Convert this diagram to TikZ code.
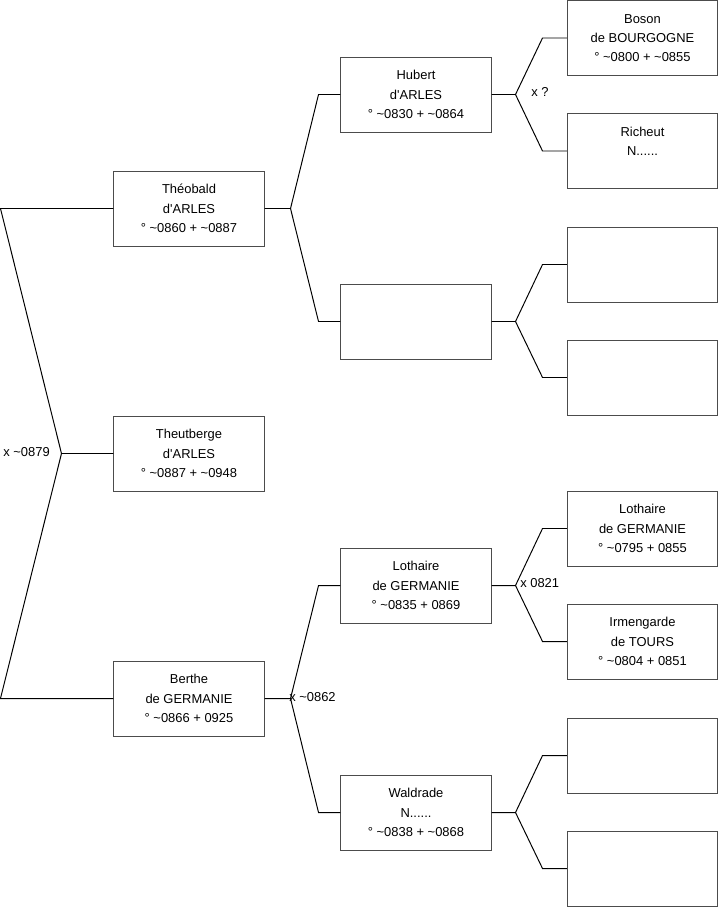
\documentclass[tikz,border=0pt]{standalone}
\usepackage{fontspec}
\setmainfont{Liberation Sans}
\usetikzlibrary{positioning}

\begin{document}
\begin{tikzpicture}[x=0.025cm, y=-0.025cm,
    person/.style={rectangle, draw=black!70, fill=white, line width=0.7pt, minimum width=3.75cm, minimum height=1.875cm, align=center, inner sep=0pt, font=\fontsize{9.2}{13.7}\selectfont},
    link/.style={draw=black, line width=0.7pt},
    union/.style={inner sep=0pt, font=\fontsize{9.2}{10}\selectfont}]

    \useasboundingbox (0,0) rectangle (719,908);

    % generation 1
    \node[person] at (189,208.5) (theobald) {Théobald\\d\textquotesingle ARLES\\° \textasciitilde0860 + \textasciitilde0887};
    \node[person] at (189,453.5) (theutberge) {Theutberge\\d\textquotesingle ARLES\\° \textasciitilde0887 + \textasciitilde0948};
    \node[person] at (189,698.5) (berthe) {Berthe\\de GERMANIE\\° \textasciitilde0866 + 0925};

    % generation 2
    \node[person] at (416,94.5) (hubert) {Hubert\\d\textquotesingle ARLES\\° \textasciitilde0830 + \textasciitilde0864};
    \node[person] at (416,321.5) (theobaldmother) {};
    \node[person] at (416,585.5) (lothaire) {Lothaire\\de GERMANIE\\° \textasciitilde0835 + 0869};
    \node[person] at (416,812.5) (waldrade) {Waldrade\\N......\\° \textasciitilde0838 + \textasciitilde0868};

    % generation 3
    \node[person] at (642.5,38) (boson) {Boson\\de BOURGOGNE\\° \textasciitilde0800 + \textasciitilde0855};
    \node[person] at (642.5,151) (richeut) {Richeut\\N......\\ };
    \node[person] at (642.5,264.5) (blanka) {};
    \node[person] at (642.5,377.5) (blankb) {};
    \node[person] at (642.5,528.5) (lothairegm) {Lothaire\\de GERMANIE\\° \textasciitilde0795 + 0855};
    \node[person] at (642.5,641.5) (irmengarde) {Irmengarde\\de TOURS\\° \textasciitilde0804 + 0851};
    \node[person] at (642.5,755.5) (blankc) {};
    \node[person] at (642.5,868.5) (blankd) {};

    % forks
    \draw[link] (theutberge.west) -- ++(-52,0) coordinate (jtheutberge) -- ++(-61,-245) -- (theobald.west);
    \draw[link] (jtheutberge) -- ++(-61,245) -- (berthe.west);

    \draw[link] (theobald.east) -- ++(26,0) coordinate (jtheobald) -- ++(28,-114) -- (hubert.west);
    \draw[link] (jtheobald) -- ++(28,113) -- (theobaldmother.west);
    \draw[link] (berthe.east) -- ++(26,0) coordinate (jberthe) -- ++(28,-113) -- (lothaire.west);
    \draw[link] (jberthe) -- ++(28,114) -- (waldrade.west);

    \draw[link] (hubert.east) -- ++(24,0) coordinate (jhubert) -- ++(27,-56.5) -- (boson.west);
    \draw[link] (jhubert) -- ++(27,56.5) -- (richeut.west);
    \draw[link] (theobaldmother.east) -- ++(24,0) coordinate (jmother) -- ++(27,-57) -- (blanka.west);
    \draw[link] (jmother) -- ++(27,56) -- (blankb.west);
    \draw[link] (lothaire.east) -- ++(24,0) coordinate (jlothaire) -- ++(27,-57) -- (lothairegm.west);
    \draw[link] (jlothaire) -- ++(27,56) -- (irmengarde.west);
    \draw[link] (waldrade.east) -- ++(24,0) coordinate (jwaldrade) -- ++(27,-57) -- (blankc.west);
    \draw[link] (jwaldrade) -- ++(27,56) -- (blankd.west);

    % marriages
    \node[union, anchor=east] at (50,452) (mtheutberge) {x \textasciitilde0879};
    \node[union, anchor=west] at (289,697) (mberthe) {x \textasciitilde0862};
    \node[union, anchor=west] at (531,92) (mhubert) {x ?};
    \node[union, anchor=west] at (520,583) (mlothaire) {x 0821};
\end{tikzpicture}
\end{document}
